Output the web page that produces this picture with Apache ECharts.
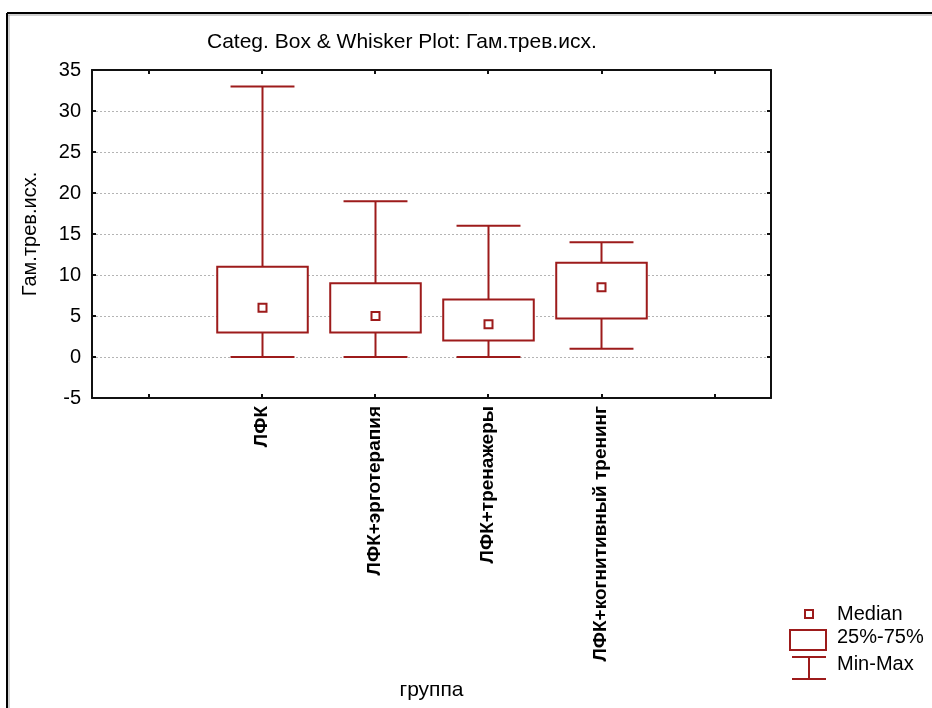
<!DOCTYPE html>
<html>
<head>
<meta charset="utf-8">
<script src="https://cdn.jsdelivr.net/npm/echarts@6/dist/echarts.min.js"></script>
<style>
html,body{margin:0;padding:0;background:#fff;}
#chart{width:932px;height:708px;}
</style>
</head>
<body>
<div id="chart"></div>
<script>
// ---- data ----
const groups = ['ЛФК', 'ЛФК+эрготерапия', 'ЛФК+тренажеры', 'ЛФК+когнитивный тренинг'];
const minVals = [0, 0, 0, 1];
const q1Vals = [3, 3, 2, 4.7];
const medianVals = [6, 5, 4, 8.5];
const q3Vals = [11, 9, 7, 11.5];
const maxVals = [33, 19, 16, 14];
const yTicks = [-5, 0, 5, 10, 15, 20, 25, 30, 35];

const titleText = 'Categ. Box & Whisker Plot: Гам.трев.исх.';
const yName = 'Гам.трев.исх.';
const xName = 'группа';
const legendLabels = ['Median', '25%-75%', 'Min-Max'];

// categories padded with an empty slot on each side
const categories = [''].concat(groups, ['']);
const seriesData = groups.map((g, i) => [i + 1, minVals[i], q1Vals[i], medianVals[i], q3Vals[i], maxVals[i]]);

const RED = '#9d1b1b';
const FONT = 'Arial, "Liberation Sans", sans-serif';

const chart = echarts.init(document.getElementById('chart'), null, {renderer: 'canvas'});

function renderItem(params, api) {
  const x = api.value(0);
  const pMin = api.coord([x, api.value(1)]);
  const pQ1 = api.coord([x, api.value(2)]);
  const pMed = api.coord([x, api.value(3)]);
  const pQ3 = api.coord([x, api.value(4)]);
  const pMax = api.coord([x, api.value(5)]);
  const slot = api.size([1, 0])[0];
  const boxW = slot * 0.8;
  const capW = slot * 0.565;
  const c = Math.round(pMed[0]) + 0.5;
  const st = {stroke: RED, lineWidth: 2, fill: null};
  return {
    type: 'group',
    children: [
      {type: 'line', shape: {x1: c, y1: pMax[1], x2: c, y2: pQ3[1]}, style: st},
      {type: 'line', shape: {x1: c, y1: pQ1[1], x2: c, y2: pMin[1]}, style: st},
      {type: 'line', shape: {x1: c - capW / 2, y1: pMax[1], x2: c + capW / 2, y2: pMax[1]}, style: st},
      {type: 'line', shape: {x1: c - capW / 2, y1: pMin[1], x2: c + capW / 2, y2: pMin[1]}, style: st},
      {type: 'rect', shape: {x: c - boxW / 2, y: pQ3[1], width: boxW, height: pQ1[1] - pQ3[1]}, style: {stroke: RED, lineWidth: 2, fill: '#fff'}},
      {type: 'rect', shape: {x: c - 4, y: pMed[1] - 4, width: 8, height: 8}, style: {stroke: RED, lineWidth: 2, fill: '#fff'}}
    ]
  };
}

const axisLineStyle = {color: '#111', width: 2};
const tickStyle = {color: '#111', width: 2};

const option = {
  backgroundColor: '#fff',
  animation: false,
  textStyle: {fontFamily: FONT},
  grid: {left: 92, right: 161, top: 70, bottom: 310, containLabel: false},
  xAxis: [
    {
      type: 'category',
      data: categories,
      position: 'bottom',
      boundaryGap: true,
      axisLine: {onZero: false, lineStyle: axisLineStyle},
      axisTick: {show: true, alignWithLabel: true, inside: true, length: 4, lineStyle: tickStyle, interval: 0},
      axisLabel: {rotate: 90, interval: 0, margin: 8, color: '#000', fontSize: 19, fontWeight: 'bold', fontFamily: FONT},
      splitLine: {show: false},
      name: xName,
      nameLocation: 'middle',
      nameGap: 282,
      nameTextStyle: {color: '#000', fontSize: 21, fontFamily: FONT}
    },
    {
      type: 'category',
      data: categories,
      position: 'top',
      boundaryGap: true,
      axisLine: {onZero: false, lineStyle: axisLineStyle},
      axisTick: {show: true, alignWithLabel: true, inside: true, length: 4, lineStyle: tickStyle, interval: 0},
      axisLabel: {show: false},
      splitLine: {show: false}
    }
  ],
  yAxis: [
    {
      type: 'value',
      min: yTicks[0],
      max: yTicks[yTicks.length - 1],
      interval: 5,
      position: 'left',
      axisLine: {show: true, onZero: false, lineStyle: axisLineStyle},
      axisTick: {show: true, inside: true, length: 4, lineStyle: tickStyle},
      axisLabel: {margin: 11, color: '#000', fontSize: 20, fontFamily: FONT},
      splitLine: {show: true, lineStyle: {color: '#b4b4b4', type: [2, 2], width: 1}},
      name: yName,
      nameLocation: 'middle',
      nameRotate: 90,
      nameGap: 52,
      nameTextStyle: {color: '#000', fontSize: 20, fontFamily: FONT}
    },
    {
      type: 'value',
      min: yTicks[0],
      max: yTicks[yTicks.length - 1],
      interval: 5,
      position: 'right',
      axisLine: {show: true, onZero: false, lineStyle: axisLineStyle},
      axisTick: {show: true, inside: true, length: 4, lineStyle: tickStyle},
      axisLabel: {show: false},
      splitLine: {show: false}
    }
  ],
  series: [
    {
      type: 'custom',
      renderItem: renderItem,
      xAxisIndex: 0,
      yAxisIndex: 0,
      encode: {x: 0, y: [1, 2, 3, 4, 5]},
      data: seriesData,
      z: 5
    }
  ],
  graphic: [
    // outer frame
    {type: 'line', shape: {x1: 7, y1: 13, x2: 932, y2: 13}, style: {stroke: '#000', lineWidth: 2}},
    {type: 'line', shape: {x1: 7, y1: 15, x2: 932, y2: 15}, style: {stroke: '#a0a0a0', lineWidth: 1}},
    {type: 'line', shape: {x1: 7, y1: 13, x2: 7, y2: 708}, style: {stroke: '#000', lineWidth: 2}},
    {type: 'line', shape: {x1: 9, y1: 15, x2: 9, y2: 708}, style: {stroke: '#a0a0a0', lineWidth: 1}},
    // title
    {type: 'text', left: 207, top: 32, style: {text: titleText, fill: '#000', font: '21px ' + FONT}},
    // legend: median
    {type: 'rect', shape: {x: 805, y: 610, width: 8, height: 8}, style: {stroke: RED, lineWidth: 2, fill: '#fff'}},
    {type: 'text', left: 837, top: 604, style: {text: legendLabels[0], fill: '#000', font: '20px ' + FONT}},
    // legend: box
    {type: 'rect', shape: {x: 790, y: 630, width: 36, height: 20}, style: {stroke: RED, lineWidth: 2, fill: '#fff'}},
    {type: 'text', left: 837, top: 627, style: {text: legendLabels[1], fill: '#000', font: '20px ' + FONT}},
    // legend: whisker
    {type: 'line', shape: {x1: 792, y1: 657, x2: 826, y2: 657}, style: {stroke: RED, lineWidth: 2}},
    {type: 'line', shape: {x1: 809, y1: 657, x2: 809, y2: 679}, style: {stroke: RED, lineWidth: 2}},
    {type: 'line', shape: {x1: 792, y1: 679, x2: 826, y2: 679}, style: {stroke: RED, lineWidth: 2}},
    {type: 'text', left: 837, top: 654, style: {text: legendLabels[2], fill: '#000', font: '20px ' + FONT}}
  ]
};

chart.setOption(option);
</script>
</body>
</html>
